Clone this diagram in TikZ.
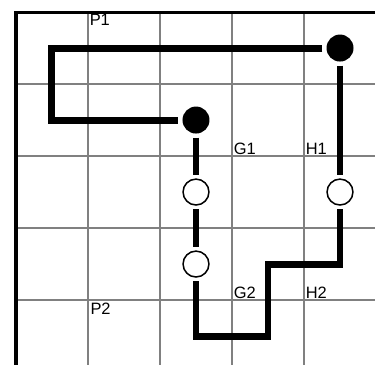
\documentclass[tikz,border=0pt]{standalone}
\usepackage{fontspec}
\setmainfont{Liberation Sans}
\begin{document}
\begin{tikzpicture}[y=-1cm,
    grid/.style={gray, line width=0.6pt},
    stone/.style={circle, inner sep=0pt, minimum size=0.375cm, outer sep=1.6pt},
    black stone/.style={stone, fill=black},
    white stone/.style={stone, draw=black, line width=0.6pt, fill=white, minimum size=0.36cm},
    wire/.style={line width=2.76pt},
    tag/.style={inner sep=0.5pt, font=\fontsize{6.5}{7.8}\selectfont}]
  \useasboundingbox (-0.222,-0.167) rectangle (4.986,4.903);
  % board
  \foreach \i in {1,...,4}
    \draw[grid] (\i,0) -- (\i,4.903);
  \foreach \j in {1,...,4}
    \draw[grid] (0,\j) -- (4.986,\j);
  \draw[line width=1.2pt] (4.986,0) -- (0,0) -- (0,4.903);
  % labels
  \node[tag, anchor=north west] (p1) at (1,0) {P1};
  \node[tag, anchor=north west, inner sep=0.8pt] (p2) at (1,4) {P2};
  \node[tag, anchor=south west] (g1) at (3,2) {G1};
  \node[tag, anchor=south west] (h1) at (4,2) {H1};
  \node[tag, anchor=south west] (g2) at (3,4) {G2};
  \node[tag, anchor=south west] (h2) at (4,4) {H2};
  % stones
  \node[black stone] (a) at (4.5,0.5) {};
  \node[black stone] (b) at (2.5,1.5) {};
  \node[white stone] (c) at (4.5,2.5) {};
  \node[white stone] (d) at (2.5,2.5) {};
  \node[white stone] (e) at (2.5,3.5) {};
  % paths
  \draw[wire] (a) -- (0.5,0.5) -- (0.5,1.5) -- (b);
  \draw[wire] (b) -- (d);
  \draw[wire] (d) -- (e);
  \draw[wire] (a) -- (c);
  \draw[wire] (c) -- (4.5,3.5) -- (3.5,3.5) -- (3.5,4.5) -- (2.5,4.5) -- (e);
\end{tikzpicture}
\end{document}
